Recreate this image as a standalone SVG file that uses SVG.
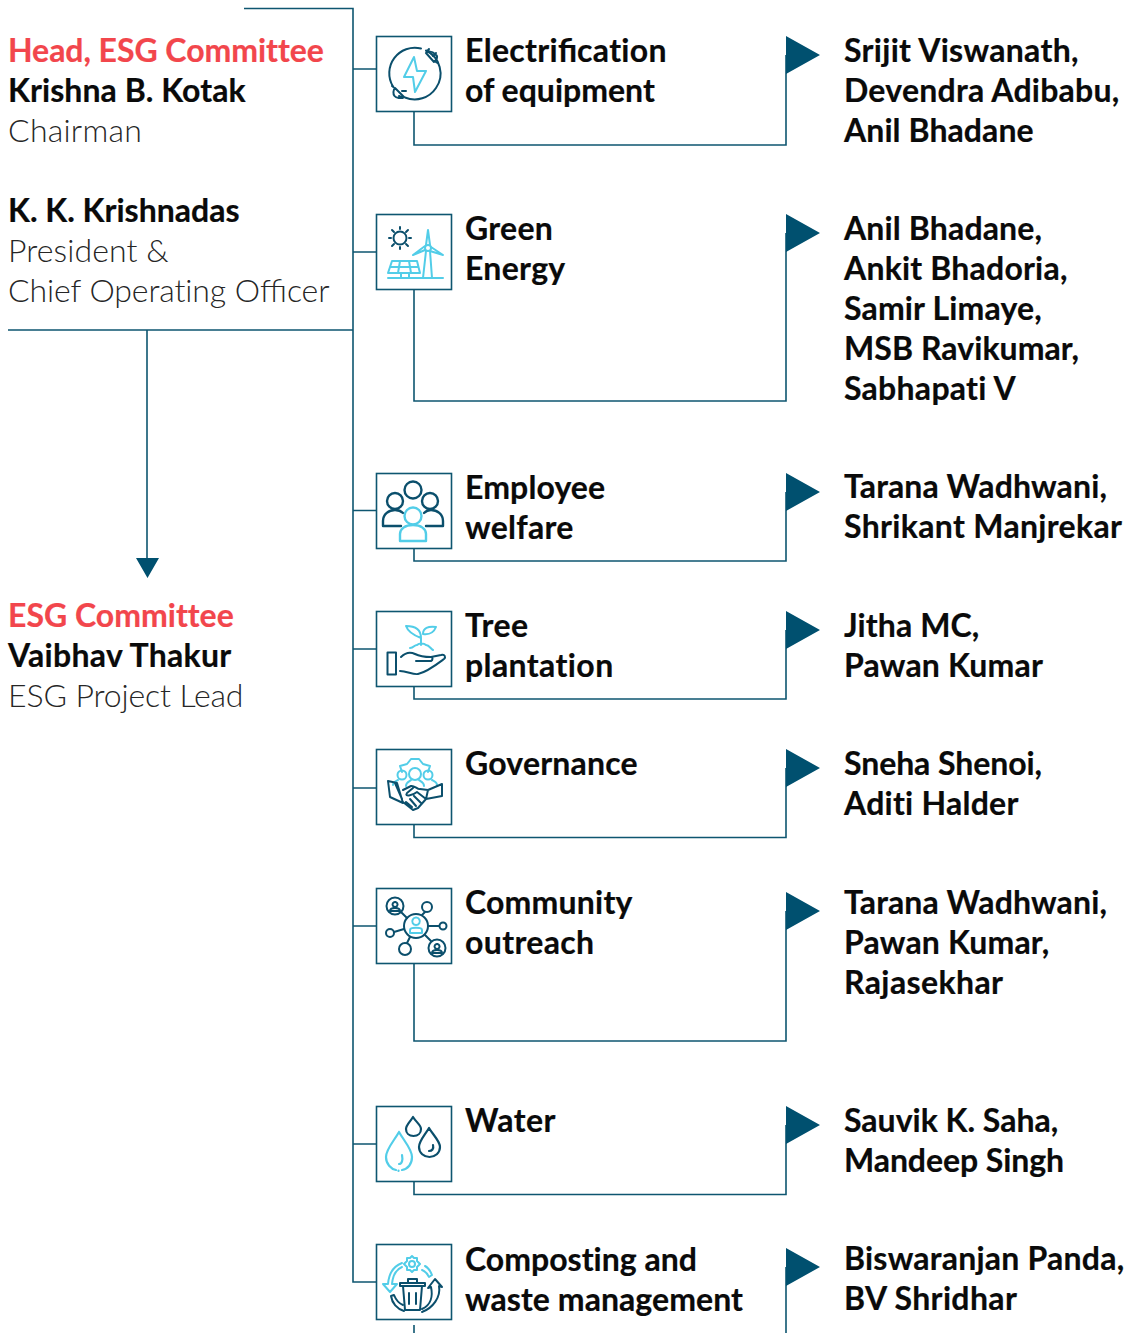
<svg xmlns="http://www.w3.org/2000/svg" width="1128" height="1333" viewBox="0 0 1128 1333">
<style>
text{font-family:Lato,"Noto Sans",sans-serif;font-size:32px;font-weight:700;fill:#0a0a0a;stroke:#0a0a0a;stroke-width:.2;font-variant-ligatures:none}
.lig{font-variant-ligatures:common-ligatures}
.r{fill:#f2464c;stroke:#f2464c}
.l{font-weight:300;fill:#262626;stroke:none}
.c{fill:none;stroke:#0e5670;stroke-width:1.6}
.t{fill:#00506f}
.box{fill:#fff;stroke:#0e5670;stroke-width:1.6}
.d{fill:none;stroke:#0b4f6c;stroke-width:2;stroke-linecap:round;stroke-linejoin:round}
.y{fill:none;stroke:#52cde8;stroke-width:2;stroke-linecap:round;stroke-linejoin:round}
</style>
<g id="connectors">
<path class="c" d="M244 8.500H353V1282H376M8 330H353M147 330V560"/>
<path class="c" d="M353 69H376M353 252H376M353 510.500H376M353 649H376M353 788H376M353 926H376M353 1144H376"/>
<path class="c" d="M414 112V145H786V55M414 290V401H786V233M414 549V561H786V492M414 687V699H786V630M414 825V837.500H786V768M414 964V1041H786V911M414 1182V1194.500H786V1125M414 1325V1333M786 1267V1333"/>
<path class="t" d="M136 558H159L147.500 578ZM786 36L820 55L786 74ZM786 214L820 233L786 252ZM786 473L820 492L786 511ZM786 611L820 630L786 649ZM786 749L820 768L786 787ZM786 892L820 911L786 930ZM786 1106L820 1125L786 1144ZM786 1248L820 1267L786 1286Z"/>
</g>
<g id="head">
<text x="8" y="62" class="r" letter-spacing="-.05">Head, ESG Committee</text>
<text x="8" y="102" letter-spacing=".06">Krishna B. Kotak</text>
<text x="8" y="142" class="l" letter-spacing=".25">Chairman</text>
<text x="8" y="222">K. K. Krishnadas</text>
<text x="8" y="262" class="l" letter-spacing=".1">President &amp;</text>
<text x="8" y="302" class="l"><tspan letter-spacing="-.1">Chief Operating O</tspan><tspan class="lig">ffi</tspan><tspan letter-spacing="-.1">cer</tspan></text>
</g>
<g id="committee">
<text x="8" y="627" class="r">ESG Committee</text>
<text x="8" y="667" letter-spacing=".29">Vaibhav Thakur</text>
<text x="8" y="707" class="l" letter-spacing="-.12">ESG Project Lead</text>
</g>
<g id="electrification">
<rect class="box" x="376.500" y="36.500" width="75" height="75"/>
<path class="d" d="M426 50.500A25.500 25.500 0 0 1 436 88M421 48.500A25.500 25.500 0 0 0 393 86.500M405 97.500A25.500 25.500 0 0 0 436 88"/>
<path class="d" d="M429 49L426.500 52M436 53L433 56M426 53L434 62C437 60 438 56 436 55M426 53C428 51 432 51 435 54M436 62L438 63"/>
<path class="d" d="M395 88L404 97C401 99 396 98 394.500 96C393 94 393 90 395 88ZM402 91L406 91M399 96L403 98M393.500 87L392 86"/>
<path class="y" d="M414 57L404 77H413L415 92L426 71H417Z"/>
</g>
<text x="465" y="62"><tspan letter-spacing=".3">Electri</tspan><tspan class="lig">fi</tspan><tspan letter-spacing=".3">cation</tspan></text><text x="465" y="102">of equipment</text>
<text x="844" y="62" letter-spacing=".3">Srijit Viswanath,</text><text x="844" y="102" letter-spacing=".24">Devendra Adibabu,</text><text x="844" y="142" letter-spacing=".08">Anil Bhadane</text>
<g id="green-energy">
<rect class="box" x="376.500" y="214.500" width="75" height="75"/>
<circle class="d" cx="400" cy="238" r="6.500"/>
<path class="d" d="M400 227V229M400 247V249M389 238H391M409 238H411M392 230L394 232M406 244L408 246M392 246L394 244M406 232L408 230"/>
<path class="y" d="M388 278H443M392 261H417L420 273H388ZM390.500 267H418.500M400 261L398 273M409 261L411 273M401 273V278M409 273V278"/>
<circle class="y" cx="428" cy="248" r="3"/>
<path class="y" d="M426 245L428 230L430 245M431 247L443 255L430 251M425 250L413 255L425 246M426 251L423 278M430 251L432 278"/>
</g>
<text x="465" y="240" letter-spacing=".3">Green</text><text x="465" y="280" letter-spacing=".3">Energy</text>
<text x="844" y="240" letter-spacing=".15">Anil Bhadane,</text><text x="844" y="280" letter-spacing=".2">Ankit Bhadoria,</text><text x="844" y="320" letter-spacing=".15">Samir Limaye,</text><text x="844" y="360" letter-spacing=".07">MSB Ravikumar,</text><text x="844" y="400" letter-spacing=".27">Sabhapati V</text>
<g id="employee-welfare">
<rect class="box" x="376.500" y="473.500" width="75" height="75"/>
<circle class="d" style="stroke-width:2.400" cx="413" cy="490" r="8.500"/>
<circle class="d" style="stroke-width:2.400" cx="395" cy="501" r="8"/>
<circle class="d" style="stroke-width:2.400" cx="430" cy="501" r="8"/>
<path class="d" style="stroke-width:2.400" d="M401 526H383V521C383 514 389 510 395 510C398 510 401 511 403 513M424 513C426 511 428 510 431 510C437 510 443 514 443 521V526H426"/>
<circle class="y" style="stroke-width:2.400" cx="413" cy="516" r="8.500"/>
<path class="y" style="stroke-width:2.400" d="M400 541V534C400 529 405 525 413 525C421 525 426 529 426 534V541Z"/>
</g>
<text x="465" y="499" letter-spacing=".12">Employee</text><text x="465" y="539" letter-spacing=".28">welfare</text>
<text x="844" y="498" letter-spacing=".12">Tarana Wadhwani,</text><text x="844" y="538" letter-spacing=".33">Shrikant Manjrekar</text>
<g id="tree-plantation">
<rect class="box" x="376.500" y="611.500" width="75" height="75"/>
<rect class="d" x="387.500" y="652.500" width="8.500" height="22"/>
<path class="d" d="M401 657C406 652 411 652 415 654C419 656 425 657 431 657C433 657 433 660 431 661H416M431 657L441 655C445 654 446 657 444 659C436 665 427 672 418 674C413 675 407 671 400 671"/>
<path class="y" d="M421 638V645M421 638C421 630 416 626 406 626C408 632 413 635 421 638ZM423 634C423 628 428 626 436 627C434 632 430 635 423 634ZM410 648C414 648 414 645 417 645C419 643 424 643 426 645C429 645 431 649 433 650"/>
</g>
<text x="465" y="637" letter-spacing=".5">Tree</text><text x="465" y="677" letter-spacing=".4">plantation</text>
<text x="844" y="637" letter-spacing=".1">Jitha MC,</text><text x="844" y="677" letter-spacing=".18">Pawan Kumar</text>
<g id="governance">
<rect class="box" x="376.500" y="749.500" width="75" height="75"/>
<path class="y" d="M402 772L400 766L407 764L411 759H419L423 764L430 766L428 772"/>
<circle class="y" cx="415" cy="774" r="6"/><circle class="y" cx="402" cy="775" r="4.500"/><circle class="y" cx="428" cy="775" r="4.500"/>
<path class="y" d="M406 786C406 782 410 781 411 780M424 786C424 782 420 781 419 780M393 785C393 782 396 781 398 780M437 785C437 782 434 781 432 780"/>
<path class="d" d="M388 781L397 783L403 803L390 797ZM395 783L402 799M442 784L428 790L426 799L442 796ZM403 790L411 786C414 785 418 790 420 789L428 790M413 788L407 793C404 797 412 796 417 792L426 799L418 808L413 810L403 802M414 796L421 803M410 799L416 806M406 802L412 807"/>
</g>
<text x="465" y="775" letter-spacing=".2">Governance</text>
<text x="844" y="775" letter-spacing="-.08">Sneha Shenoi,</text><text x="844" y="815" letter-spacing=".25">Aditi Halder</text>
<g id="community-outreach">
<rect class="box" x="376.500" y="888.500" width="75" height="75"/>
<circle class="d" cx="416" cy="926" r="12"/>
<circle class="d" cx="395" cy="906" r="8.500"/><circle class="d" cx="437" cy="948" r="8.500"/>
<circle class="d" cx="427" cy="907" r="5"/><circle class="d" cx="443" cy="926" r="3.500"/><circle class="d" cx="390" cy="933" r="4"/><circle class="d" cx="405" cy="949" r="6"/>
<path class="d" d="M401 912L407 918M425 912L422 915M428 926H439M394 932L404 929M407 943L410 937M425 935L431 941M395 902a2.500 2.500 0 1 0 .1 0M390 911C390 907 400 907 400 911ZM437 944a2.500 2.500 0 1 0 .1 0M432 953C432 949 442 949 442 953Z"/>
<path class="y" d="M416 917.500a3.800 3.800 0 1 0 .1 0ZM410 933V930C410 927 422 927 422 930V933Z"/>
</g>
<text x="465" y="914" letter-spacing=".2">Community</text><text x="465" y="954" letter-spacing=".35">outreach</text>
<text x="844" y="914" letter-spacing=".12">Tarana Wadhwani,</text><text x="844" y="954" letter-spacing=".17">Pawan Kumar,</text><text x="844" y="994" letter-spacing=".4">Rajasekhar</text>
<g id="water">
<rect class="box" x="376.500" y="1106.500" width="75" height="75"/>
<path class="y" style="stroke-width:2.200" d="M399 1132C394 1141 386 1149 386 1157C386 1164 391 1169 396 1170M402 1170C408 1169 412 1164 412 1157C412 1149 404 1141 399 1132M402 1155C403 1160 402 1164 399 1164M398.500 1170.500V1171"/>
<path class="d" style="stroke-width:2.200" d="M413 1117C410 1122 406 1125 406 1129C406 1133 409 1136 413.500 1136C418 1136 421 1133 421 1129C421 1125 416 1122 413 1117ZM429 1128C425 1135 419 1141 419 1147C419 1153 424 1157 429.500 1157C435 1157 440 1153 440 1147C440 1141 433 1135 429 1128ZM433 1145C434 1149 432 1151 429 1151"/>
</g>
<text x="465" y="1132" letter-spacing=".5">Water</text>
<text x="844" y="1132">Sauvik K. Saha,</text><text x="844" y="1172" letter-spacing="-.08">Mandeep Singh</text>
<g id="composting">
<rect class="box" x="376.500" y="1244.500" width="75" height="75"/>
<circle class="y" cx="412" cy="1264" r="3"/>
<path class="y" d="M412 1256L414 1258H417L417 1261L420 1264L417 1267L417 1270H414L412 1272L410 1270H407L407 1267L404 1264L407 1261L407 1258H410Z"/>
<path class="y" d="M425 1266C427 1267 430 1270 432 1275L429 1277C427 1273 425 1271 422 1270M402 1267C397 1269 393 1274 392 1284H397L390 1292L383 1284L388 1284C389 1272 394 1266 402 1263"/>
<path class="d" d="M400 1286H425V1283H400ZM408 1283V1279H417V1283M403 1286L405 1310H420L422 1286M409 1293V1304M416 1293V1304"/>
<path class="d" d="M404 1311C397 1309 392 1303 391 1296L394 1295C396 1300 398 1303 403 1305M422 1309C431 1305 433 1296 431 1287L428 1288L435 1279L442 1287L439 1286C441 1297 433 1308 422 1312"/>
</g>
<text x="465" y="1271">Composting and</text><text x="465" y="1311" letter-spacing=".06">waste management</text>
<text x="844" y="1270" letter-spacing=".22">Biswaranjan Panda,</text><text x="844" y="1310" letter-spacing=".36">BV Shridhar</text>
</svg>
